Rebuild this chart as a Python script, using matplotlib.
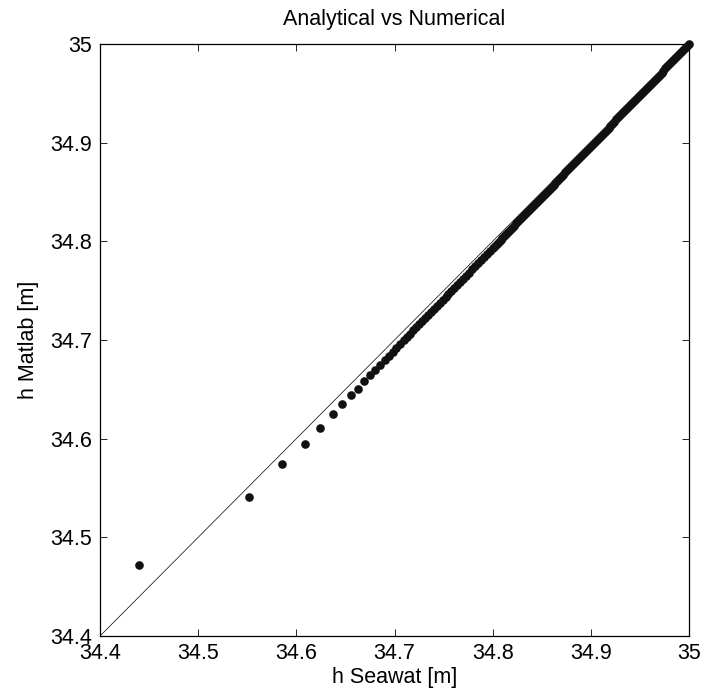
import matplotlib
matplotlib.use("Agg")
import matplotlib.pyplot as plt

plt.rcParams['font.family'] = ['Liberation Sans', 'DejaVu Sans']

title = "Analytical vs Numerical"
xlabel = "h Seawat [m]"
ylabel = "h Matlab [m]"
xticks = [34.4, 34.5, 34.6, 34.7, 34.8, 34.9, 35.0]
xticklabels = ["34.4", "34.5", "34.6", "34.7", "34.8", "34.9", "35"]
yticks = [34.4, 34.5, 34.6, 34.7, 34.8, 34.9, 35.0]
yticklabels = ["34.4", "34.5", "34.6", "34.7", "34.8", "34.9", "35"]
ref_line = [34.4, 35.0]

h_seawat = [
    34.440, 34.552, 34.585, 34.609, 34.624, 34.637, 34.647, 34.656, 34.663,
    34.669, 34.675, 34.680, 34.685, 34.690, 34.694, 34.698, 34.702, 34.706,
    34.710, 34.713, 34.716, 34.719, 34.722, 34.725, 34.728, 34.731, 34.734,
    34.737, 34.740, 34.743, 34.746, 34.749, 34.752, 34.755, 34.758, 34.761,
    34.764, 34.767, 34.770, 34.773, 34.776, 34.779, 34.782, 34.785, 34.788,
    34.791, 34.794, 34.797, 34.800,
    34.802, 34.804, 34.806, 34.808, 34.810, 34.812, 34.814, 34.816, 34.818, 34.820,
    34.822, 34.824, 34.826, 34.828, 34.830, 34.832, 34.834, 34.836, 34.838, 34.840,
    34.842, 34.844, 34.846, 34.848, 34.850, 34.852, 34.854, 34.856, 34.858, 34.860,
    34.862, 34.864, 34.866, 34.868, 34.870, 34.872, 34.874, 34.876, 34.878, 34.880,
    34.882, 34.884, 34.886, 34.888, 34.890, 34.892, 34.894, 34.896, 34.898, 34.900,
    34.902, 34.904, 34.906, 34.908, 34.910, 34.912, 34.914, 34.916, 34.918, 34.920,
    34.922, 34.924, 34.926, 34.928, 34.930, 34.932, 34.934, 34.936, 34.938, 34.940,
    34.942, 34.944, 34.946, 34.948, 34.950, 34.952, 34.954, 34.956, 34.958, 34.960,
    34.962, 34.964, 34.966, 34.968, 34.970, 34.972, 34.974, 34.976, 34.978, 34.980,
    34.982, 34.984, 34.986, 34.988, 34.990, 34.992, 34.994, 34.996, 34.998, 35.000,
]
h_matlab = [
    34.472, 34.541, 34.574, 34.595, 34.611, 34.625, 34.635, 34.644, 34.650,
    34.658, 34.665, 34.670, 34.675, 34.680, 34.684, 34.688, 34.692, 34.696,
    34.700, 34.703, 34.706, 34.710, 34.713, 34.716, 34.719, 34.722, 34.725,
    34.728, 34.731, 34.734, 34.737, 34.741, 34.744, 34.747, 34.750, 34.753,
    34.756, 34.759, 34.762, 34.765, 34.768, 34.772, 34.775, 34.778, 34.781,
    34.784, 34.787, 34.790, 34.793,
    34.7954, 34.7974, 34.7995, 34.8016, 34.8036, 34.8057, 34.8078, 34.8098, 34.8119, 34.8140,
    34.8160, 34.8181, 34.8202, 34.8222, 34.8243, 34.8264, 34.8284, 34.8305, 34.8326, 34.8346,
    34.8367, 34.8388, 34.8408, 34.8429, 34.8450, 34.8470, 34.8491, 34.8512, 34.8532, 34.8553,
    34.8574, 34.8594, 34.8615, 34.8636, 34.8656, 34.8677, 34.8698, 34.8718, 34.8739, 34.8760,
    34.8780, 34.8801, 34.8822, 34.8842, 34.8863, 34.8884, 34.8904, 34.8925, 34.8946, 34.8966,
    34.8987, 34.9008, 34.9028, 34.9049, 34.9070, 34.9090, 34.9111, 34.9132, 34.9152, 34.9173,
    34.9194, 34.9214, 34.9235, 34.9256, 34.9276, 34.9297, 34.9318, 34.9338, 34.9359, 34.9380,
    34.9400, 34.9421, 34.9442, 34.9462, 34.9483, 34.9504, 34.9524, 34.9545, 34.9566, 34.9586,
    34.9607, 34.9628, 34.9648, 34.9669, 34.9690, 34.9710, 34.9731, 34.9752, 34.9772, 34.9793,
    34.9814, 34.9834, 34.9855, 34.9876, 34.9896, 34.9917, 34.9938, 34.9958, 34.9979, 35.0000,
]

fig = plt.figure(figsize=(7.05, 6.98), dpi=100)
ax = fig.add_axes([100/705, 1 - 636/698, 589/705, 592/698])

ax.plot(ref_line, ref_line, color='black', lw=0.5)
ax.plot(h_seawat, h_matlab, linestyle='none', marker='o', markersize=6.2,
        color='#111111', markeredgewidth=0, clip_on=False, zorder=3)

ax.set_xlim(34.4, 35.0)
ax.set_ylim(34.4, 35.0)
ax.set_xticks(xticks)
ax.set_xticklabels(xticklabels)
ax.set_yticks(yticks)
ax.set_yticklabels(yticklabels)

fs = 15.5
ax.tick_params(direction='in', length=5, width=0.6, top=True, right=True,
               labelsize=fs, colors='black')
ax.tick_params(axis='x', pad=5)
ax.tick_params(axis='y', pad=6)
for s in ax.spines.values():
    s.set_linewidth(0.9)
    s.set_color('black')

ax.set_title(title, fontsize=fs, pad=14)
ax.set_xlabel(xlabel, fontsize=fs, labelpad=2)
ax.set_ylabel(ylabel, fontsize=fs, labelpad=8)

fig.savefig("out.png", dpi=100)
